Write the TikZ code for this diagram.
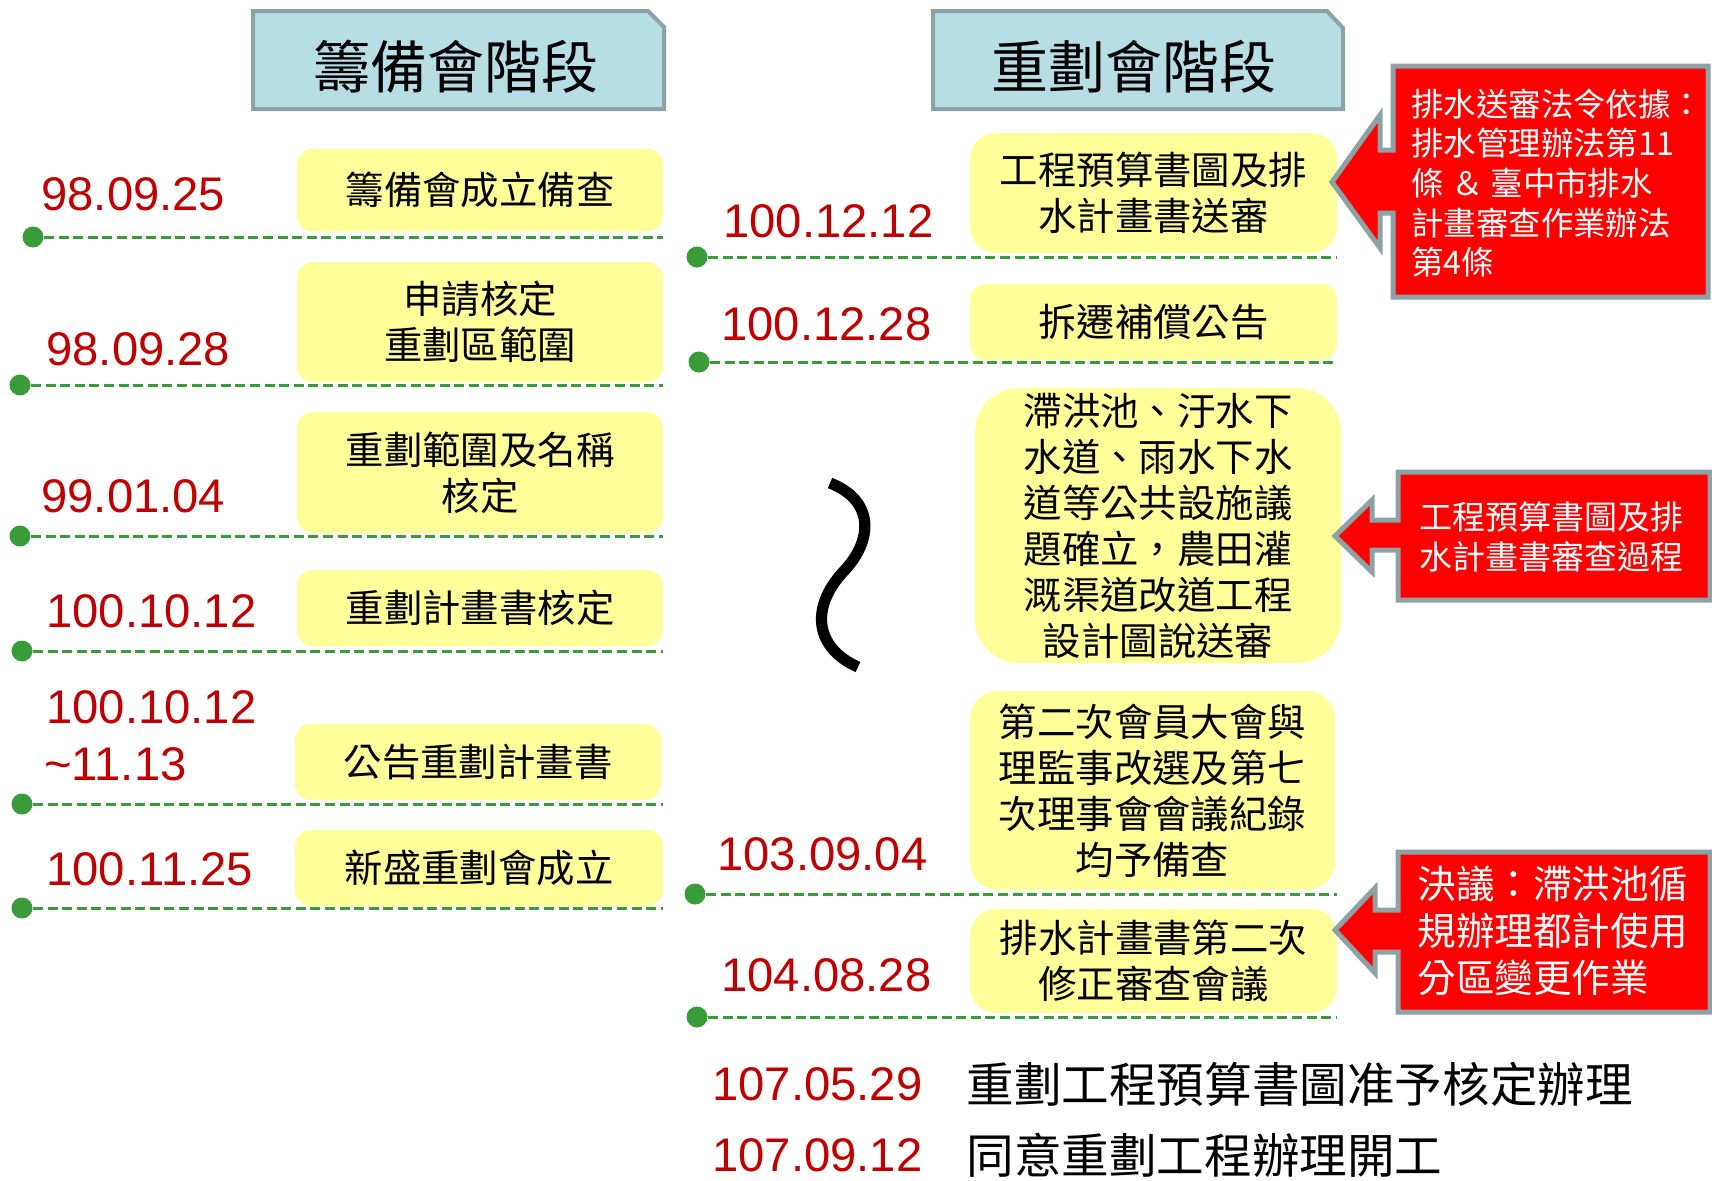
\documentclass[tikz,border=0pt]{standalone}
\usepackage{fontspec}
\setmainfont{Liberation Sans}
\newfontfamily\cjk{Noto Sans CJK TC}
\definecolor{hdrfill}{RGB}{183,222,228}
\definecolor{hdrline}{RGB}{140,162,165}
\definecolor{yfill}{RGB}{255,255,153}
\definecolor{dgreen}{RGB}{58,155,58}
\definecolor{dred}{RGB}{192,0,0}
\definecolor{cred}{RGB}{255,0,0}
\tikzset{
  hdr/.style={fill=hdrfill, draw=hdrline, line width=2pt, line join=miter},
  hdrtext/.style={font=\cjk\fontsize{28.5}{32}\selectfont, inner sep=0pt},
  yb/.style={fill=yfill, rounded corners=8pt, inner sep=0pt, align=center, font=\cjk\fontsize{19.2}{23}\selectfont},
  datelbl/.style={anchor=west, inner sep=0pt, text=dred, font=\fontsize{23.6}{28}\selectfont},
  blacklbl/.style={anchor=west, inner sep=0pt, font=\cjk\fontsize{23.8}{28}\selectfont},
  tl/.style={draw=dgreen, line width=1.5pt, dash pattern=on 5pt off 2.3pt},
  tdot/.style={circle, fill=dgreen, minimum size=10.5pt, inner sep=0pt},
  callout/.style={fill=cred, draw=hdrline, line width=2.5pt, line join=miter},
  ctext/.style={text=white, anchor=west, inner sep=0pt, align=left}
}
\begin{document}
\begin{tikzpicture}[x=0.5pt,y=-0.5pt]
\useasboundingbox (0,0) rectangle (1712,1180);

% headers
\draw[hdr] (253,11) -- (648,11) -- (664,27) -- (664,109) -- (253,109) -- cycle;
\node[hdrtext] (hl) at (456,67) {籌備會階段};
\draw[hdr] (933,11) -- (1327,11) -- (1343,28) -- (1343,109) -- (933,109) -- cycle;
\node[hdrtext] (hr) at (1134,67) {重劃會階段};

% left column boxes
\node[yb, minimum width=183pt, minimum height=41.5pt] (l1) at (480,190) {籌備會成立備查};
\node[yb, minimum width=183pt, minimum height=60pt] (l2) at (480,322) {申請核定\\重劃區範圍};
\node[yb, minimum width=183pt, minimum height=60.5pt] (l3) at (480,472.5) {重劃範圍及名稱\\核定};
\node[yb, minimum width=183pt, minimum height=38pt] (l4) at (480,608) {重劃計畫書核定};
\node[yb, minimum width=183pt, minimum height=38pt] (l5) at (478,762) {公告重劃計畫書};
\node[yb, minimum width=184pt, minimum height=38pt] (l6) at (479,868) {新盛重劃會成立};

% left dates
\node[datelbl] (ld1) at (41,194) {98.09.25};
\node[datelbl] (ld2) at (46,349) {98.09.28};
\node[datelbl] (ld3) at (41,496) {99.01.04};
\node[datelbl] (ld4) at (46,611) {100.10.12};
\node[datelbl] (ld5a) at (46,707) {100.10.12};
\node[datelbl] (ld5b) at (44,764) {\char`\~11.13};
\node[datelbl] (ld6) at (46,869) {100.11.25};

% left timeline lines
\node[tdot] (ldot1) at (33,237) {};
\coordinate (le1) at (663,237);
\draw[tl] (ldot1) -- (le1);
\node[tdot] (ldot2) at (20,385) {};
\coordinate (le2) at (663,385);
\draw[tl] (ldot2) -- (le2);
\node[tdot] (ldot3) at (20,536) {};
\coordinate (le3) at (663,536);
\draw[tl] (ldot3) -- (le3);
\node[tdot] (ldot4) at (22,651) {};
\coordinate (le4) at (663,651);
\draw[tl] (ldot4) -- (le4);
\node[tdot] (ldot5) at (22,804) {};
\coordinate (le5) at (663,804);
\draw[tl] (ldot5) -- (le5);
\node[tdot] (ldot6) at (22,908) {};
\coordinate (le6) at (663,908);
\draw[tl] (ldot6) -- (le6);

% right column boxes
\node[yb, rounded corners=13pt, minimum width=183.5pt, minimum height=60pt] (r1) at (1153.5,193) {工程預算書圖及排\\水計畫書送審};
\node[yb, minimum width=183.5pt, minimum height=38pt] (r2) at (1153.5,322) {拆遷補償公告};
\node[yb, rounded corners=22pt, minimum width=183pt, minimum height=137.5pt] (r3) at (1158,525.5) {滯洪池、汙水下\\水道、雨水下水\\道等公共設施議\\題確立，農田灌\\溉渠道改道工程\\設計圖說送審};
\node[yb, rounded corners=14pt, minimum width=182.5pt, minimum height=99.5pt] (r4) at (1152.5,790.5) {第二次會員大會與\\理監事改選及第七\\次理事會會議紀錄\\均予備查};
\node[yb, rounded corners=13pt, minimum width=183.5pt, minimum height=52pt] (r5) at (1153.5,961) {排水計畫書第二次\\修正審查會議};

% right dates
\node[datelbl] (rd1) at (723,221) {100.12.12};
\node[datelbl] (rd2) at (721,324) {100.12.28};
\node[datelbl] (rd4) at (717,854) {103.09.04};
\node[datelbl] (rd5) at (721,975) {104.08.28};

% right timeline lines
\node[tdot] (rdot1) at (697,257) {};
\coordinate (re1) at (1337,257);
\draw[tl] (rdot1) -- (re1);
\node[tdot] (rdot2) at (699,362) {};
\coordinate (re2) at (1337,362);
\draw[tl] (rdot2) -- (re2);
\node[tdot] (rdot4) at (695,894) {};
\coordinate (re4) at (1337,894);
\draw[tl] (rdot4) -- (re4);
\node[tdot] (rdot5) at (697,1017) {};
\coordinate (re5) at (1337,1017);
\draw[tl] (rdot5) -- (re5);

% squiggle
\draw[line width=5.6pt] (830,483) .. controls (874,500) and (874,540) .. (843,572) .. controls (810,608) and (815,648) .. (858,667);

% bottom lines
\node[datelbl] (bd1) at (712,1084) {107.05.29};
\node[blacklbl] (bt1) at (966,1084) {重劃工程預算書圖准予核定辦理};
\node[datelbl] (bd2) at (712,1155) {107.09.12};
\node[blacklbl] (bt2) at (966,1155) {同意重劃工程辦理開工};

% callouts
\draw[callout] (1393,66) -- (1708,66) -- (1708,297) -- (1393,297) -- (1393,213) -- (1380,213) -- (1380,248) -- (1332,182) -- (1380,115) -- (1380,150) -- (1393,150) -- cycle;
\node[ctext, font=\cjk\fontsize{16.2}{19.8}\selectfont] (c1) at (1411,183) {排水送審法令依據：\\排水管理辦法第11\\條 ＆ 臺中市排水\\計畫審查作業辦法\\第4條};

\draw[callout] (1398,472) -- (1710,472) -- (1710,600) -- (1398,600) -- (1398,550) -- (1372,550) -- (1372,572) -- (1335,536) -- (1372,500) -- (1372,520) -- (1398,520) -- cycle;
\node[ctext, font=\cjk\fontsize{16.5}{20}\selectfont] (c2) at (1419,537) {工程預算書圖及排\\水計畫書審查過程};

\draw[callout] (1398,852) -- (1710,852) -- (1710,1012) -- (1398,1012) -- (1398,952) -- (1375,952) -- (1375,973) -- (1335,930) -- (1375,888) -- (1375,910) -- (1398,910) -- cycle;
\node[ctext, font=\cjk\fontsize{19.3}{23.5}\selectfont] (c3) at (1417,931) {決議：滯洪池循\\規辦理都計使用\\分區變更作業};
\end{tikzpicture}
\end{document}
